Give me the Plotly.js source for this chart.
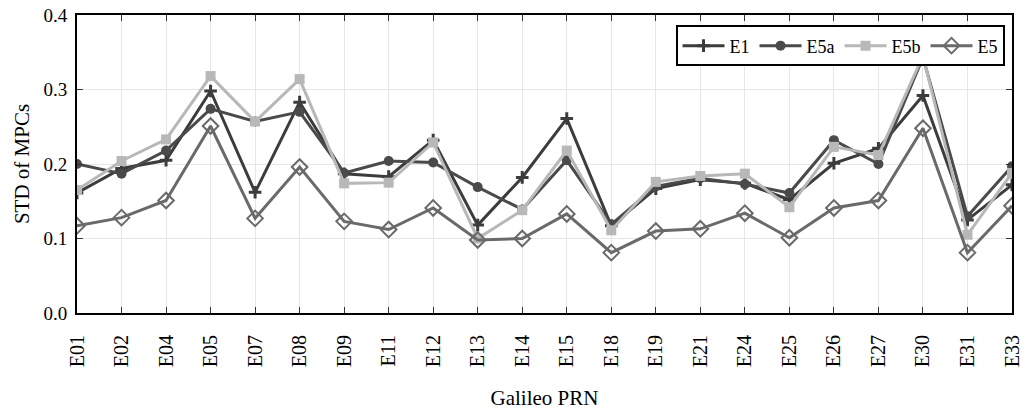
<!DOCTYPE html>
<html>
<head>
<meta charset="utf-8">
<script src="https://cdn.plot.ly/plotly-3.0.1.min.js"></script>
<style>html,body{margin:0;padding:0;background:#fff;}#chart{width:1028px;height:413px;}</style>
</head>
<body>
<div id="chart"></div>
<script>
const prn = ["E01","E02","E04","E05","E07","E08","E09","E11","E12","E13","E14","E15","E18","E19","E21","E24","E25","E26","E27","E30","E31","E33"];
const e1  = [0.161,0.194,0.205,0.298,0.162,0.283,0.187,0.183,0.232,0.118,0.182,0.261,0.117,0.167,0.179,0.174,0.152,0.201,0.221,0.292,0.125,0.172];
const e5a = [0.200,0.187,0.218,0.274,0.257,0.270,0.188,0.204,0.202,0.169,0.139,0.205,0.119,0.170,0.181,0.173,0.161,0.232,0.200,0.343,0.130,0.197];
const e5b = [0.165,0.204,0.233,0.318,0.257,0.314,0.174,0.175,0.229,0.100,0.138,0.218,0.111,0.176,0.184,0.187,0.142,0.223,0.212,0.345,0.105,0.188];
const e5  = [0.117,0.128,0.151,0.251,0.127,0.196,0.123,0.112,0.141,0.098,0.100,0.133,0.081,0.110,0.113,0.134,0.101,0.141,0.151,0.248,0.081,0.144];
const yTicks = [0.0,0.1,0.2,0.3,0.4];

const font = "Liberation Serif";
const traces = [
  {name:"E1", x:prn, y:e1, mode:"lines+markers", line:{color:"#3c3c3c", width:3},
   marker:{symbol:"cross-thin-open", size:9, line:{color:"#3c3c3c", width:3}}},
  {name:"E5a", x:prn, y:e5a, mode:"lines+markers", line:{color:"#4a4a4a", width:3},
   marker:{symbol:"circle", size:10, color:"#4a4a4a"}},
  {name:"E5b", x:prn, y:e5b, mode:"lines+markers", line:{color:"#b8b8b8", width:3},
   marker:{symbol:"square", size:10, color:"#b8b8b8"}},
  {name:"E5", x:prn, y:e5, mode:"lines+markers", line:{color:"#6a6a6a", width:3},
   marker:{symbol:"diamond-open", size:12, line:{color:"#6a6a6a", width:2}}}
];
const layout = {
  width:1028, height:413,
  margin:{l:77, r:16, t:15, b:100},
  paper_bgcolor:"#fff", plot_bgcolor:"#fff",
  font:{family:font, color:"#000", size:18},
  showlegend:true,
  legend:{orientation:"h", x:0.992, xanchor:"right", y:0.965, yanchor:"top",
    bgcolor:"#fff", bordercolor:"#000", borderwidth:2, font:{family:font, size:18},
    itemwidth:42, tracegroupgap:0},
  xaxis:{type:"category", range:[0,21], tickangle:-90,
    showline:true, linecolor:"#000", linewidth:2, mirror:"ticks",
    ticks:"inside", ticklen:6, tickcolor:"#333", tickwidth:1,
    showgrid:true, gridcolor:"#e6e6e6", gridwidth:1, zeroline:false,
    tickfont:{family:font, size:20}, ticklabelstandoff:12,
    title:{text:"Galileo PRN", font:{family:font, size:21}, standoff:24}},
  yaxis:{range:[0,0.4], tickvals:yTicks, tickformat:".1f",
    showline:true, linecolor:"#000", linewidth:2, mirror:"ticks",
    ticks:"inside", ticklen:6, tickcolor:"#333", tickwidth:1,
    showgrid:true, gridcolor:"#e6e6e6", gridwidth:1, zeroline:false,
    tickfont:{family:font, size:19}, ticklabelstandoff:4,
    title:{text:"STD of MPCs", font:{family:font, size:21}, standoff:8}}
};
Plotly.newPlot("chart", traces, layout, {staticPlot:true, displayModeBar:false});
</script>
</body>
</html>
